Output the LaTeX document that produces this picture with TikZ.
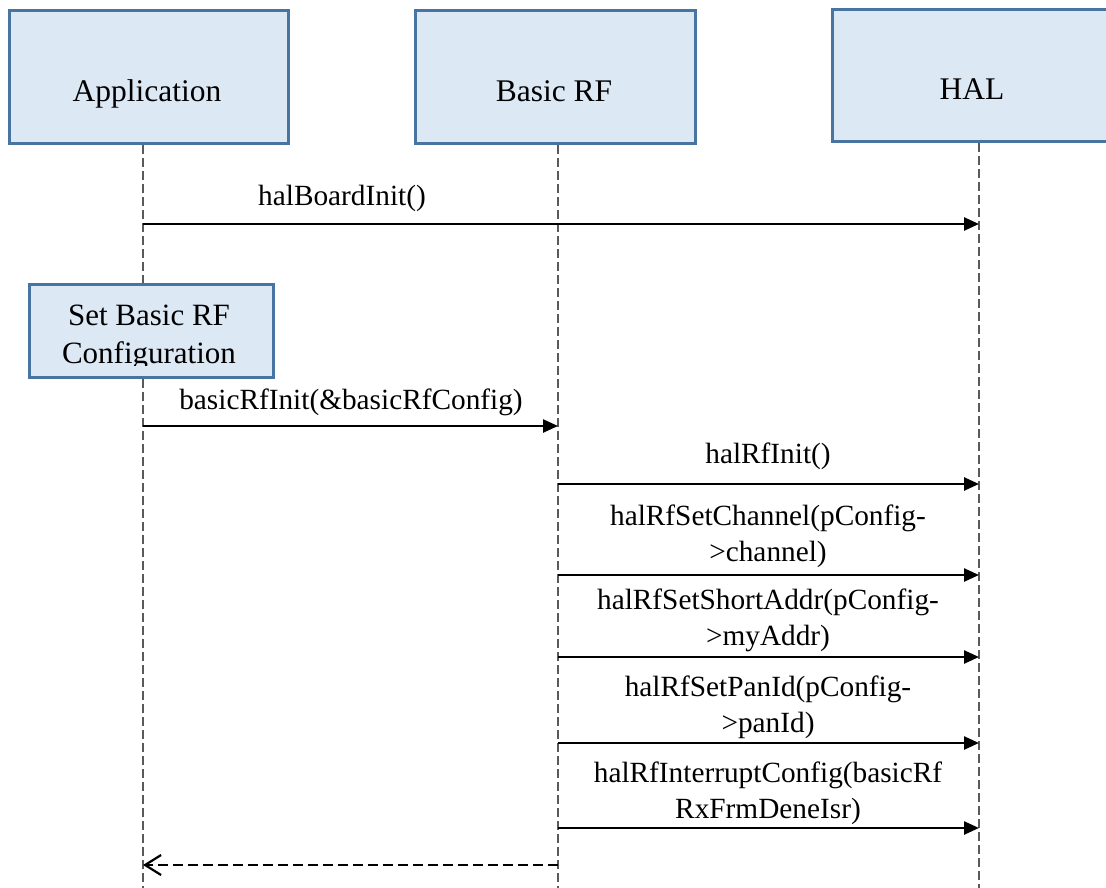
\documentclass[tikz,border=0pt]{standalone}
\usepackage{fontspec}
\setmainfont{Liberation Serif}
\usetikzlibrary{arrows.meta}
\definecolor{boxfill}{RGB}{221,232,245}
\definecolor{boxline}{RGB}{72,116,162}
\definecolor{lifegray}{RGB}{90,90,90}
\tikzset{
  actor/.style={draw=boxline, line width=3pt, fill=boxfill, inner sep=0pt},
  titletext/.style={font=\fontsize{31.5}{36}\selectfont, anchor=base, inner sep=0pt},
  msgtext/.style={font=\fontsize{29.3}{36}\selectfont, anchor=base, inner sep=0pt, align=center},
  lifeline/.style={draw=lifegray, line width=1.3pt, dash pattern=on 9pt off 4pt},
  msg/.style={draw=black, line width=2.5pt, -{Triangle[length=15pt,width=13pt]}},
  reply/.style={draw=black, line width=2.4pt, dash pattern=on 10pt off 5pt, -{Straight Barb[length=16pt,width=20pt,line width=2.2pt]}}
}
\begin{document}
\begin{tikzpicture}[x=1pt,y=-1pt]
\useasboundingbox (0,0) rectangle (1106,888);
\clip (0,0) rectangle (1106,888);
% actor boxes
\node[actor, minimum width=279pt, minimum height=133pt] (app) at (148.5,77.5) {};
\node[actor, minimum width=280pt, minimum height=133pt] (brf) at (555,77.5) {};
\node[actor, minimum width=300pt, minimum height=132pt] (hal) at (982,76) {};
\node[titletext] (appT) at (147,102) {Application};
\node[titletext] (brfT) at (554,102) {Basic RF};
\node[titletext] (halT) at (972,100) {HAL};
% lifelines
\coordinate (appL) at (143,145);
\coordinate (brfL) at (558,145);
\coordinate (halL) at (979,143);
\coordinate (appB) at (143,888);
\coordinate (brfB) at (558,888);
\coordinate (halB) at (979,888);
\draw[lifeline] (appL) -- (appB);
\draw[lifeline] (brfL) -- (brfB);
\draw[lifeline] (halL) -- (halB);
% configuration box
\node[actor, minimum width=244pt, minimum height=93pt] (cfg) at (151,330.5) {};
\begin{scope}
\clip (29,284) rectangle (273,365);
\node[msgtext, font=\fontsize{31}{38}\selectfont] (cfgT) at (149,363) {Set Basic RF\\Configuration};
\end{scope}
% messages
\draw[msg] (appL |- 0,224) -- (halL |- 0,224);
\node[msgtext] (m1) at (342,205) {halBoardInit()};
\draw[msg] (appL |- 0,426) -- (brfL |- 0,426);
\node[msgtext] (m2) at (351,409) {basicRfInit(\&basicRfConfig)};
\draw[msg] (brfL |- 0,484) -- (halL |- 0,484);
\node[msgtext] (m3) at (768,463) {halRfInit()};
\draw[msg] (brfL |- 0,575) -- (halL |- 0,575);
\node[msgtext] (m4) at (768,561) {halRfSetChannel(pConfig-\\>channel)};
\draw[msg] (brfL |- 0,657) -- (halL |- 0,657);
\node[msgtext] (m5) at (768,645) {halRfSetShortAddr(pConfig-\\>myAddr)};
\draw[msg] (brfL |- 0,743) -- (halL |- 0,743);
\node[msgtext] (m6) at (768,732) {halRfSetPanId(pConfig-\\>panId)};
\draw[msg] (brfL |- 0,828) -- (halL |- 0,828);
\node[msgtext] (m7) at (768,818) {halRfInterruptConfig(basicRf\\RxFrmDeneIsr)};
\draw[reply] (brfL |- 0,865) -- (appL |- 0,865);
\end{tikzpicture}
\end{document}
